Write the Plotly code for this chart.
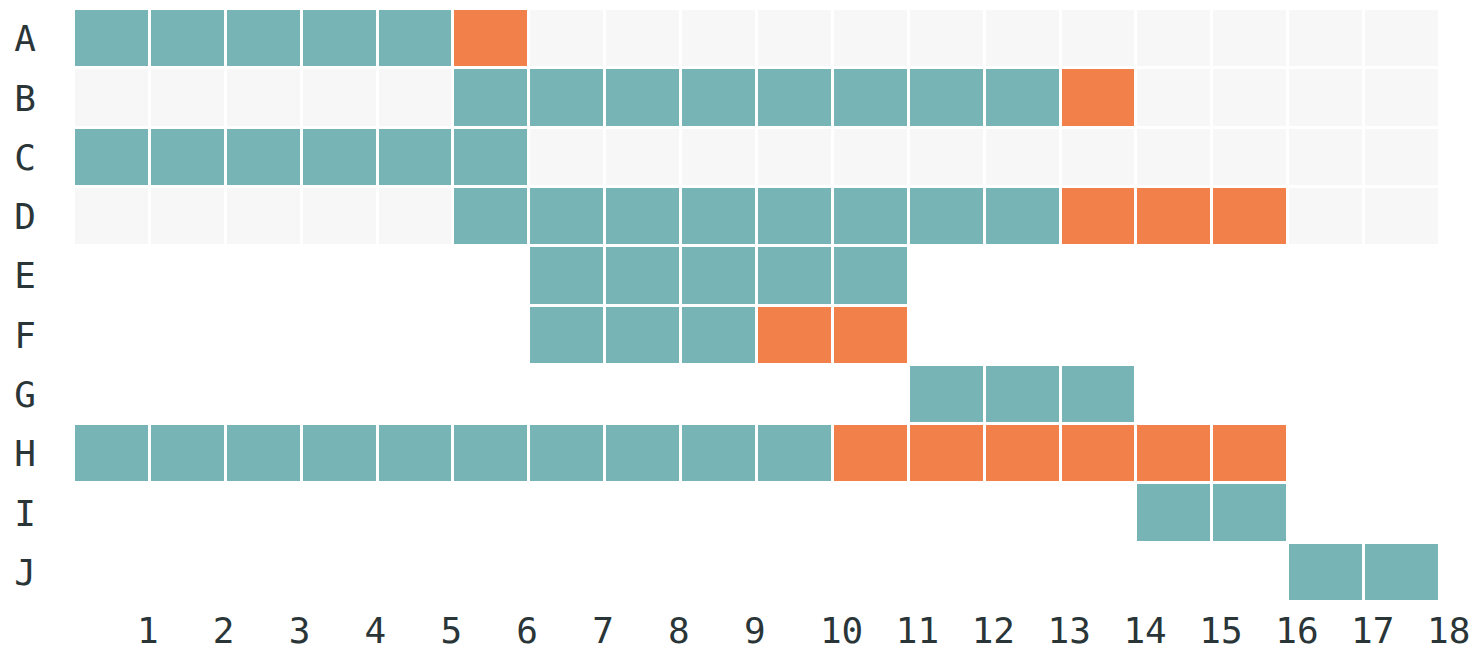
import plotly.graph_objects as go

rows = ["A", "B", "C", "D", "E", "F", "G", "H", "I", "J"]
n_cols = 18
teal_start = [0, 5, 0, 5, 6, 6, 11, 0, 14, 16]
teal_len = [5, 8, 6, 8, 5, 3, 3, 10, 2, 2]
orange_len = [1, 1, 0, 3, 0, 2, 0, 6, 0, 0]
has_track = [True, True, True, True, False, False, False, False, False, False]
x_ticks = list(range(1, 19))

TEAL = "#77b4b6"
ORANGE = "#f2804a"
GREY = "#f7f7f7"
TEXT = "#2a3538"

z = []
for i in range(len(rows)):
    row = [0 if has_track[i] else None for _ in range(n_cols)]
    for c in range(teal_start[i], teal_start[i] + teal_len[i]):
        row[c] = 1
    s = teal_start[i] + teal_len[i]
    for c in range(s, s + orange_len[i]):
        row[c] = 2
    z.append(row)

x_centers = [c + 0.5 for c in range(n_cols)]

fig = go.Figure(
    go.Heatmap(
        z=z,
        x=x_centers,
        y=rows,
        zmin=0,
        zmax=2,
        colorscale=[
            [0, GREY], [0.333, GREY],
            [0.333, TEAL], [0.667, TEAL],
            [0.667, ORANGE], [1, ORANGE],
        ],
        showscale=False,
        xgap=3,
        ygap=3,
        hoverongaps=False,
    )
)

font = dict(family="DejaVu Sans Mono", size=36, color=TEXT)
fig.update_layout(
    width=1470,
    height=643,
    margin=dict(l=66, r=38, t=1, b=49, autoexpand=False),
    paper_bgcolor="white",
    plot_bgcolor="white",
    font=font,
    showlegend=False,
)
fig.update_xaxes(
    range=[0, n_cols],
    tickvals=x_ticks,
    ticktext=[str(v) for v in x_ticks],
    showgrid=False,
    zeroline=False,
    showline=False,
    ticks="",
    ticklabelposition="outside right",
    ticklabelshift=-13,
    ticklabelstandoff=4,
    tickfont=font,
    automargin=False,
)
fig.update_yaxes(
    range=[len(rows) - 0.5, -0.5],
    showgrid=False,
    zeroline=False,
    showline=False,
    ticks="",
    ticklabelstandoff=37,
    tickfont=font,
    automargin=False,
)

fig.write_html("out.html")
